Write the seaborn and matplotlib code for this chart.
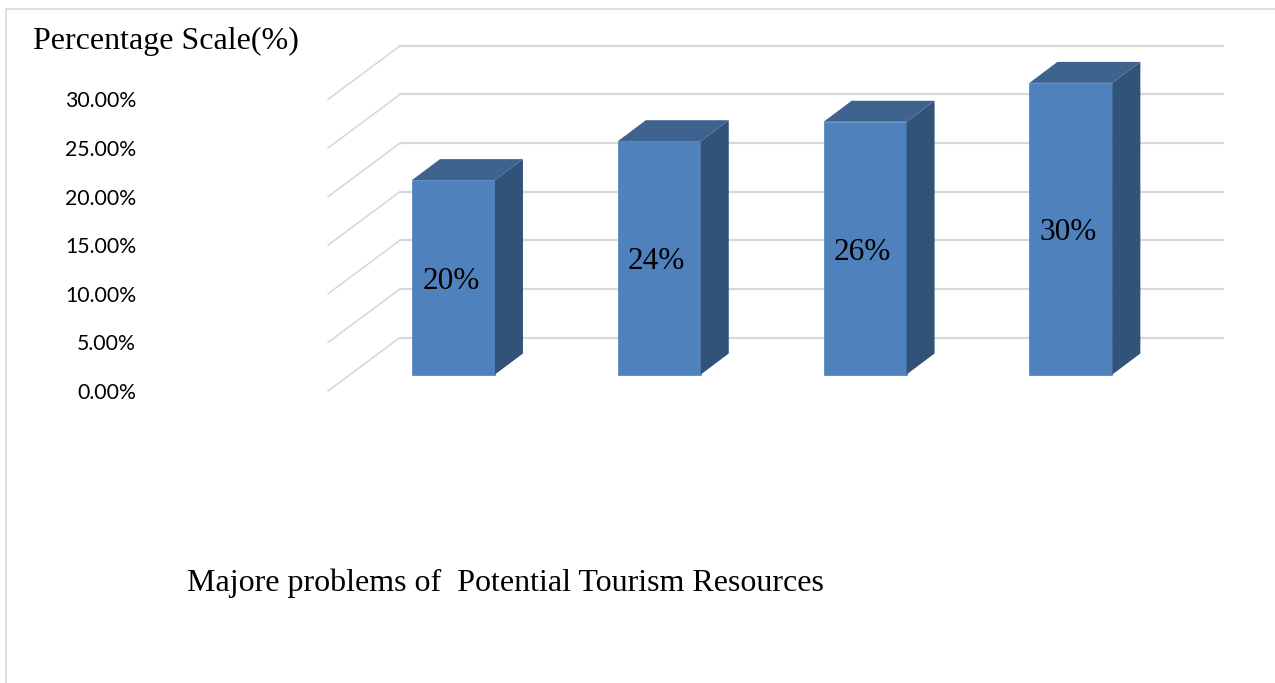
import matplotlib
matplotlib.use("Agg")
import matplotlib.pyplot as plt
import pandas as pd
import seaborn as sns
from matplotlib.lines import Line2D
from matplotlib.patches import Polygon

# Chart values
problems = ["Problem 1", "Problem 2", "Problem 3", "Problem 4"]
percentages = [20, 24, 26, 30]
bar_labels = ["20%", "24%", "26%", "30%"]
tick_values = [0, 5, 10, 15, 20, 25, 30]
tick_labels = ["0.00%", "5.00%", "10.00%", "15.00%", "20.00%", "25.00%", "30.00%"]

# Colours
FRONT = "#4f81bd"
SIDE = "#325379"
TOP = "#3e638f"
GRID = "#d9d9d9"

W, H = 1275, 683
PX_PER_CAT = 205.8
PX_PER_PCT = 9.72

sns.set_theme(style="white")
plt.rcParams["font.family"] = ["Liberation Serif", "DejaVu Sans"]

df = pd.DataFrame({"problem": problems, "pct": percentages})

fig = plt.figure(figsize=(W / 100, H / 100), dpi=100)

# Axes box in pixels
left, right, top, bottom = 140, 1230, 30, 400
ax = fig.add_axes([left / W, 1 - bottom / H, (right - left) / W, (bottom - top) / H])


def px_x(px):
    return (px - 453.5) / PX_PER_CAT


def px_y(px):
    return (374.5 - px) / PX_PER_PCT


sns.barplot(data=df, x="problem", y="pct", color=FRONT, saturation=1, width=0.403,
            edgecolor="#5b8ac2", linewidth=0.6, ax=ax, zorder=3)
ax.set_xlim(px_x(left), px_x(right))
ax.set_ylim(px_y(bottom), px_y(top))

# Depth of the fake 3D bars and walls
bar_dx = 28 / PX_PER_CAT
bar_dy = 21 / PX_PER_PCT
front_drop = 16.5 / PX_PER_PCT
back_rise = 37 / PX_PER_PCT

# Walls: diagonal on the left, then flat along the back
for v in tick_values:
    ax.plot([px_x(328), px_x(400)], [v - front_drop, v + back_rise], color=GRID, lw=1.2, zorder=1)
    ax.plot([px_x(400), px_x(1223)], [v + back_rise, v + back_rise], color=GRID, lw=1.6, zorder=1)

# Side and top faces from each bar
for bar, label in zip(ax.patches, bar_labels):
    x0 = bar.get_x()
    x1 = x0 + bar.get_width()
    h = bar.get_height()
    ax.add_patch(Polygon([(x1, 0), (x1 + bar_dx, bar_dy), (x1 + bar_dx, h + bar_dy), (x1, h)],
                         facecolor=SIDE, edgecolor="none", zorder=3))
    ax.add_patch(Polygon([(x0, h), (x0 + bar_dx, h + bar_dy), (x1 + bar_dx, h + bar_dy), (x1, h)],
                         facecolor=TOP, edgecolor="none", zorder=3))
    ax.text((x0 + x1) / 2 - 2.5 / PX_PER_CAT, h / 2 - 0.4, label, ha="center", va="center",
            fontsize=22.5, color="black", family="Liberation Serif", zorder=4)

# Tick labels sit on the front edge of the wall
ax.set_yticks([v - front_drop for v in tick_values])
ax.set_yticklabels(tick_labels, fontsize=15.3, family="Lato", color="black")
ax.tick_params(axis="y", length=0, pad=2.9)
ax.set_xticks([])
ax.set_xlabel("")
ax.set_ylabel("")
sns.despine(ax=ax, left=True, bottom=True)

fig.text(33 / W, 1 - 41 / H, "Percentage Scale(%)", fontsize=23, color="black",
         family="Liberation Serif", ha="left", va="center")
fig.text(187 / W, 1 - 583 / H, "Majore problems of  Potential Tourism Resources", fontsize=23.05,
         color="black", family="Liberation Serif", ha="left", va="center")

# Outer chart border, cut off at the top and left
fig.add_artist(Line2D([5.5 / W, 1], [1 - 8.5 / H, 1 - 8.5 / H], color=GRID, lw=1.2))
fig.add_artist(Line2D([5.5 / W, 5.5 / W], [1 - 8.5 / H, 0], color=GRID, lw=1.2))

fig.savefig("out.png", dpi=100)
